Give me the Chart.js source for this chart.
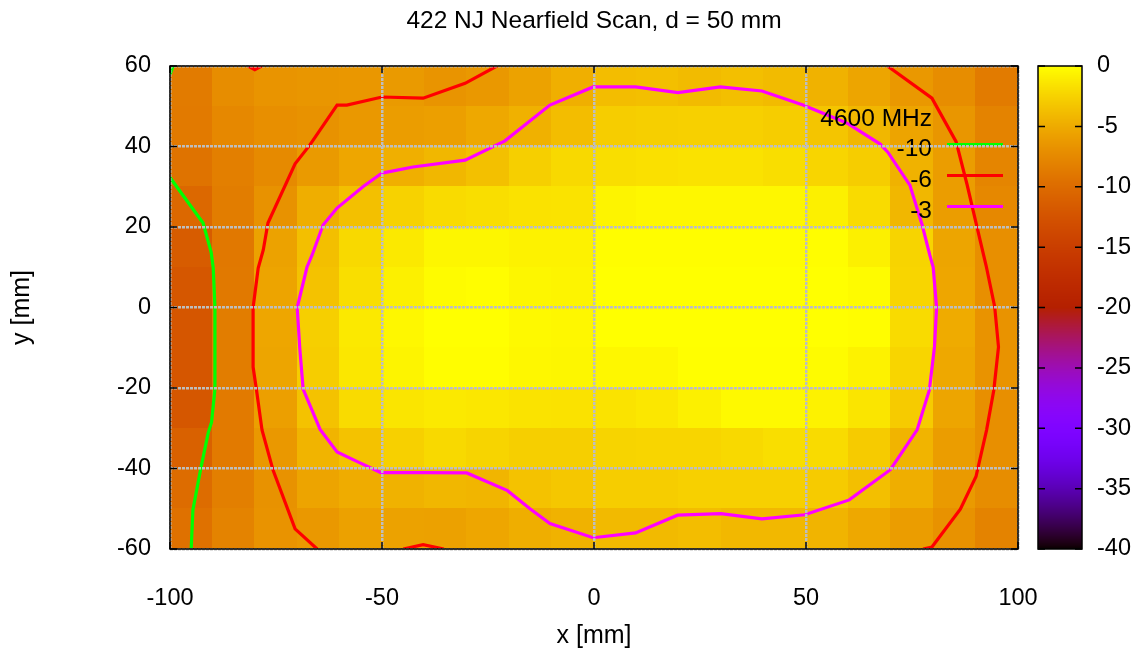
<!DOCTYPE html>
<html><head><meta charset="utf-8">
<script src="https://cdn.jsdelivr.net/npm/chart.js@4/dist/chart.umd.min.js"></script>
<style>html,body{margin:0;padding:0;background:#fff;overflow:hidden}</style>
</head><body>
<canvas id="c" width="1139" height="657"></canvas>
<script>
// ---- data ----
const titleText = '422 NJ Nearfield Scan, d = 50 mm';
const keyTitle = '4600 MHz';
const xTicks = [-100, -50, 0, 50, 100];
const yTicks = [-60, -40, -20, 0, 20, 40, 60];
const cbTicks = [0, -5, -10, -15, -20, -25, -30, -35, -40];
const xCenters = [-95,-85,-75,-65,-55,-45,-35,-25,-15,-5,5,15,25,35,45,55,65,75,85,95];
const yCenters = [55,45,35,25,15,5,-5,-15,-25,-35,-45,-55];
const cellDb = [
 [-8.6,-7.2,-6.6,-6.5,-6.4,-6.2,-6.6,-6.3,-5.6,-4.7,-3.8,-3.7,-3.9,-3.7,-3.9,-4.5,-5.4,-6.3,-7.2,-8.6],
 [-8.7,-7.6,-7.0,-6.8,-6.3,-6.0,-5.8,-5.2,-4.6,-3.8,-2.8,-2.7,-2.6,-2.6,-2.8,-3.3,-4.2,-5.5,-6.5,-8.0],
 [-9.3,-8.3,-7.4,-6.2,-5.3,-4.7,-4.2,-3.6,-2.7,-2.1,-1.8,-1.7,-1.6,-1.6,-1.8,-2.3,-2.8,-4.5,-6.0,-7.8],
 [-10.3,-8.5,-6.8,-4.8,-3.6,-2.5,-2.0,-1.8,-1.6,-1.5,-0.6,-0.4,-0.4,-0.4,-0.4,-0.8,-2.0,-4.2,-6.0,-7.6],
 [-11.5,-8.9,-5.6,-3.7,-2.1,-1.2,-0.5,-0.5,-0.7,-0.7,-0.1,-0.1,-0.1,-0.1,-0.1,-0.1,-0.8,-2.4,-5.4,-7.0],
 [-12.0,-8.8,-5.5,-3.5,-1.8,-0.8,-0.2,-0.1,-0.5,-0.6,0,0,0,0,0,0,-0.2,-2.3,-5.3,-7.0],
 [-12.2,-8.5,-5.3,-2.7,-1.2,-0.4,0,0,-0.3,-0.4,0,0,0,0,0,0,-0.1,-2.0,-5.0,-6.7],
 [-12.2,-8.5,-5.4,-2.8,-1.3,-0.6,-0.1,-0.1,-0.4,-0.5,-0.4,-0.4,-0.05,-0.05,-0.05,-0.2,-0.7,-2.3,-5.2,-6.7],
 [-12.0,-8.7,-5.8,-3.5,-2.0,-1.4,-1.2,-1.3,-1.5,-1.6,-1.5,-1.3,-0.8,-0.3,-0.3,-0.7,-1.4,-2.9,-5.4,-7.0],
 [-11.0,-8.7,-6.3,-4.4,-3.5,-2.6,-2.1,-2.4,-2.7,-2.7,-2.4,-2.3,-2.3,-2.1,-1.8,-2.0,-2.9,-4.4,-6.0,-7.0],
 [-10.0,-8.3,-6.8,-5.5,-4.9,-4.5,-4.2,-4.3,-3.5,-3.2,-2.8,-2.8,-2.6,-2.6,-2.6,-2.9,-3.7,-4.8,-6.2,-7.2],
 [-9.5,-8.0,-6.7,-6.3,-5.7,-5.6,-5.7,-5.3,-4.8,-4.5,-4.0,-4.0,-3.8,-4.1,-4.1,-4.4,-5.2,-6.0,-6.8,-8.0]
];
const contour3 = [[-70,0],[-69.4,-10],[-68.6,-20.3],[-64.6,-30.3],[-60.6,-35.9],[-55.2,-38.6],[-50.3,-41],[-40,-41],[-30,-41.1],[-20.4,-45.5],[-15.1,-50],[-10.4,-53.7],[-0.2,-57.2],[9.8,-56],[19.7,-51.6],[29.9,-51.2],[39.6,-52.5],[49.7,-51.5],[60.2,-47.8],[69.9,-40.3],[76.2,-30.4],[79.1,-20.5],[80.3,-9.8],[80.8,0],[80,10],[79.2,13],[77.4,20.5],[74.5,30.4],[69.3,38.6],[67.5,40.6],[59.7,45.8],[49.3,50.3],[39.6,53.8],[29.8,54.8],[19.8,53.4],[9.8,54.8],[-0.2,54.8],[-10.4,50.3],[-21,41.4],[-30.4,36.6],[-42.7,34.9],[-50,33.4],[-54.5,30],[-60.6,24.7],[-63.9,20.5],[-66.5,13],[-67.7,10],[-70,0]];
const contour6Left = [[-65.3,-60],[-70.5,-55],[-75.7,-40.4],[-78.3,-30.4],[-79.6,-20.5],[-80.4,-14.8],[-80.4,0],[-79.2,9.8],[-78,14.3],[-76.9,21],[-70.5,35.7],[-67,40.4],[-60.6,50.3],[-58.3,50.3],[-50,52.3],[-40.3,52],[-30.4,55.7],[-22.9,60]];
const contour6Right = [[69.2,60],[79.7,52],[85.4,41.2],[88,30.5],[90.1,21],[92.5,10.3],[94.5,0.2],[95.4,-9.8],[94.3,-20.5],[92.6,-30.4],[90.1,-42],[86.4,-50.1],[79.7,-59.5],[77.6,-60]];
const contour6TopNub = [[-81.6,60],[-80,59.1],[-78.4,60]];
const contour6BottomNub = [[-45,-60],[-40.3,-58.9],[-35.4,-60]];
const contour10 = [[-100,32.3],[-92.2,21],[-90.3,13.8],[-89.8,9.8],[-89.4,0.2],[-89.4,-20.3],[-90.2,-28.5],[-91,-31.2],[-92.7,-39.8],[-94.6,-50.3],[-95,-60]];
const contour10Corner = [[-100,57.8],[-99.3,60]];
const keyLevels = ['-10', '-6', '-3'];

// ---- styling ----
const FONT = '"Liberation Sans", Arial, Helvetica, sans-serif';
const FS_TICK = 23.5, FS_LAB = 25, FS_KEY = 24.5;
const C10 = '#00ff00', C6 = '#ff0000', C3 = '#ff00ff';
const keyColors = [C10, C6, C3];

function pal(v) {
  const t = Math.min(1, Math.max(0, (v + 40) / 40));
  const r = Math.sqrt(t), g = t * t * t, b = Math.max(0, Math.sin(2 * Math.PI * t));
  return 'rgb(' + Math.round(r * 255) + ',' + Math.round(g * 255) + ',' + Math.round(b * 255) + ')';
}
const pts = a => a.map(p => ({x: p[0], y: p[1]}));
function lineDs(arr, color) {
  return {data: pts(arr), showLine: true, borderColor: color, borderWidth: 3.2, pointRadius: 0,
          fill: false, tension: 0, borderJoinStyle: 'miter', borderCapStyle: 'butt'};
}

const heatPlugin = {
  id: 'heat',
  beforeDatasetsDraw(chart) {
    const {ctx, scales: {x, y}} = chart;
    const hx = Math.abs(xCenters[1] - xCenters[0]) / 2;
    const hy = Math.abs(yCenters[1] - yCenters[0]) / 2;
    ctx.save();
    yCenters.forEach((yc, j) => xCenters.forEach((xc, i) => {
      const x0 = x.getPixelForValue(xc - hx), x1 = x.getPixelForValue(xc + hx);
      const y0 = y.getPixelForValue(yc + hy), y1 = y.getPixelForValue(yc - hy);
      ctx.fillStyle = pal(cellDb[j][i]);
      ctx.fillRect(Math.floor(x0), Math.floor(y0), Math.ceil(x1) - Math.floor(x0), Math.ceil(y1) - Math.floor(y0));
    }));
    ctx.restore();
  },
  afterDatasetsDraw(chart) {
    // key (drawn under the grid, as in the reference)
    const {ctx, chartArea: a} = chart;
    ctx.save();
    ctx.font = FS_KEY + 'px ' + FONT;
    ctx.fillStyle = '#000';
    ctx.textAlign = 'right';
    ctx.textBaseline = 'middle';
    const tx = a.right - 86;
    ctx.fillText(keyTitle, tx, a.top + 53);
    keyLevels.forEach((lab, k) => {
      ctx.fillText(lab, tx, a.top + 83 + k * 31);
      ctx.strokeStyle = keyColors[k];
      ctx.lineWidth = 3;
      ctx.beginPath();
      const ly = a.top + 78.5 + k * 31;
      ctx.moveTo(a.right - 71, ly);
      ctx.lineTo(a.right - 15, ly);
      ctx.stroke();
    });
    ctx.restore();
  },
  afterDraw(chart) {
    const {ctx, chartArea: a, scales: {x, y, cb}} = chart;
    ctx.save();
    // colour box
    const L = a.right + 20, R = a.right + 64;
    for (let py = Math.floor(cb.top); py < Math.ceil(cb.bottom); py++) {
      ctx.fillStyle = pal(cb.getValueForPixel(py + 0.5));
      ctx.fillRect(L, py, R - L, 1);
    }
    ctx.strokeStyle = '#000';
    ctx.lineWidth = 1.5;
    ctx.strokeRect(L, cb.top, R - L, cb.bottom - cb.top);
    ctx.beginPath();
    cbTicks.forEach(v => {
      const p = cb.getPixelForValue(v);
      ctx.moveTo(L, p); ctx.lineTo(L + 7, p);
      ctx.moveTo(R, p); ctx.lineTo(R - 7, p);
    });
    // plot frame and inward ticks
    xTicks.forEach(v => {
      const p = x.getPixelForValue(v);
      ctx.moveTo(p, a.bottom); ctx.lineTo(p, a.bottom - 7);
      ctx.moveTo(p, a.top); ctx.lineTo(p, a.top + 7);
    });
    yTicks.forEach(v => {
      const p = y.getPixelForValue(v);
      ctx.moveTo(a.left, p); ctx.lineTo(a.left + 7, p);
      ctx.moveTo(a.right, p); ctx.lineTo(a.right - 7, p);
    });
    ctx.stroke();
    ctx.strokeRect(a.left, a.top, a.right - a.left, a.bottom - a.top);
    ctx.restore();
  }
};

Chart.defaults.font.family = FONT;
Chart.defaults.font.size = FS_TICK;
Chart.defaults.color = '#000';

const noPad = s => { s.paddingTop = 0; s.paddingBottom = 0; };
const gridOpts = {color: '#bebebe', lineWidth: 2.5, drawTicks: false, z: 1};
new Chart(document.getElementById('c'), {
  type: 'scatter',
  data: {datasets: [
    lineDs(contour10, C10), lineDs(contour10Corner, C10),
    lineDs(contour6Left, C6), lineDs(contour6Right, C6), lineDs(contour6TopNub, C6), lineDs(contour6BottomNub, C6),
    lineDs(contour3, C3)
  ]},
  options: {
    responsive: false, animation: false, devicePixelRatio: 1,
    layout: {padding: 0},
    plugins: {legend: {display: false}, tooltip: {enabled: false}, title: {display: false}},
    scales: {
      top: {type: 'linear', position: 'top', min: -100, max: 100,
            ticks: {display: false}, grid: {display: false, drawTicks: false}, border: {display: false},
            title: {display: true, text: titleText, font: {size: FS_KEY}, padding: {top: 7, bottom: 0}},
            afterFit: s => { s.height = 66; s.paddingLeft = 0; s.paddingRight = 0; }},
      x: {type: 'linear', position: 'bottom', min: -100, max: 100,
          afterBuildTicks: s => { s.ticks = xTicks.map(v => ({value: v})); },
          ticks: {padding: 35, maxRotation: 0, autoSkip: false},
          grid: gridOpts,
          border: {display: false, dash: [3, 1]},
          title: {display: true, text: 'x [mm]', font: {size: FS_LAB}, padding: {top: 0, bottom: 6}},
          afterFit: s => { s.height = 108; }},
      y: {type: 'linear', position: 'left', min: -60, max: 60,
          afterBuildTicks: s => { s.ticks = yTicks.map(v => ({value: v})); },
          ticks: {padding: 19, autoSkip: false},
          grid: gridOpts,
          border: {display: false, dash: [3, 1]},
          title: {display: true, text: 'y [mm]', font: {size: FS_LAB}, padding: {top: 7, bottom: 0}},
          afterFit: s => { s.width = 170; noPad(s); }},
      cb: {type: 'linear', position: 'right', min: -40, max: 0,
           afterBuildTicks: s => { s.ticks = cbTicks.map(v => ({value: v})); },
           ticks: {padding: 79, autoSkip: false},
           grid: {display: false, drawTicks: false},
           border: {display: false},
           afterFit: s => { s.width = 121; noPad(s); }}
    }
  },
  plugins: [heatPlugin]
});
</script>
</body></html>
